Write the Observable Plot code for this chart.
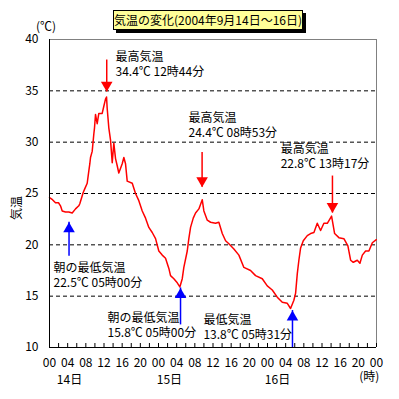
<!DOCTYPE html>
<html><head><meta charset="utf-8">
<script src="https://cdn.jsdelivr.net/npm/d3@7"></script>
<script src="https://cdn.jsdelivr.net/npm/@observablehq/plot@0.6"></script>
<style>
body{margin:0;background:#fff;font-family:"Noto Sans CJK JP",sans-serif;}
#wrap{position:relative;width:399px;height:399px;overflow:hidden;}
#wrap svg{position:absolute;left:0;top:0;}
#title{position:absolute;left:113px;top:10px;width:188px;height:18px;background:#FFFF99;border:1px solid #000;box-shadow:3px 3px 0 #000;font-size:12px;line-height:18px;text-align:center;white-space:nowrap;color:#000;}
#unit{position:absolute;left:36px;top:18px;font-size:12px;line-height:16px;color:#000;}
#ylab{position:absolute;left:16px;top:208px;font-size:12px;line-height:14px;transform:translate(-50%,-50%) rotate(-90deg);white-space:nowrap;color:#000;}
</style>
</head><body>
<div id="wrap">
  <div id="title"></div>
  <div id="unit"></div>
  <div id="ylab"></div>
</div>
<script>
// ---- data ----
const titleText = "気温の変化(2004年9月14日～16日)";
const unitText = "(℃)";
const yLabelText = "気温";
const yTicks = [10, 15, 20, 25, 30, 35, 40];
const gridTemps = [15, 20, 25, 30, 35];
const hourLabelTicks = [0,4,8,12,16,20,24,28,32,36,40,44,48,52,56,60,64,68,72];
const hourMinorTicks = [0,2,4,6,8,10,12,14,16,18,20,22,24,26,28,30,32,34,36,38,40,42,44,46,48,50,52,54,56,58,60,62,64,66,68,70,72];
const dayLabels = ["14日", "15日", "16日"];
const dayHours = [4.4, 26.4, 50.2];
const hourUnit = "(時)";
const hourUnitAt = 70.4;

// elapsed hours since 14日 00時, temperature (℃)
const hours = [0,0.66,1.32,1.98,2.42,2.8,3.52,4.25,5.0,5.73,
  6.45,6.67,7.42,7.71,8.3,8.66,8.88,9.03,9.4,9.76,
  9.91,10.13,10.5,10.86,11.6,11.96,12.33,12.56,12.7,13.06,
  13.44,13.81,14.16,14.54,14.91,15.26,16.01,16.37,16.74,17.11,
  18.22,18.94,19.67,20.42,21.15,21.87,22.62,23.35,24.07,24.82,
  25.55,26.28,26.65,27.38,28.13,28.7,29.23,29.58,30.33,30.68,
  31.06,31.65,32.16,32.89,33.63,33.99,34.74,35.46,36.56,37.29,
  38.04,38.77,39.49,40.6,41.7,42.8,44.27,45.37,46.85,47.95,
  49.05,50.15,51.26,52.36,53.08,53.81,54.19,54.56,54.91,55.29,
  55.88,56.76,57.49,58.22,58.96,59.69,60.42,61.17,62.11,62.78,
  63.72,64.82,65.7,66.3,66.89,67.77,68.35,68.88,69.6,70.33,
  71.08,71.96];
const temps = [24.6,24.4,24.1,24.1,23.8,23.3,23.2,23.2,23.1,23.5,
  23.8,24.0,25.1,25.4,26.0,27.2,27.9,28.5,29.1,30.8,
  31.4,32.7,31.8,32.8,32.8,33.5,34.2,34.4,33.3,31.4,
  30.2,28.0,29.9,28.4,27.7,27.0,27.9,28.5,27.9,26.2,
  26.0,25.0,24.3,23.3,22.6,21.7,21.2,20.6,19.4,19.0,
  18.7,17.7,17.0,16.7,16.3,15.9,16.7,17.8,19.4,20.6,
  21.7,22.6,23.1,23.5,24.4,23.3,22.4,22.2,22.1,22.2,
  21.1,20.4,20.1,19.6,19.0,17.8,17.5,17.0,16.7,16.0,
  15.6,14.9,14.4,14.3,13.8,14.6,15.3,17.2,18.5,19.7,
  20.4,20.9,21.1,21.2,22.1,21.4,22.1,22.1,22.8,21.1,
  20.7,20.6,19.9,18.5,18.3,18.5,18.2,19.0,19.4,19.4,
  20.2,20.5];

// annotations
const noteTitles = ["朝の最低気温", "最高気温", "朝の最低気温", "最高気温", "最低気温", "最高気温"];
const noteValues = ["22.5℃ 05時00分", "34.4℃ 12時44分", "15.8℃ 05時00分", "24.4℃ 08時53分", "13.8℃ 05時31分", "22.8℃ 13時17分"];
const arrowKinds = ["min", "max", "min", "max", "min", "max"];
const arrowHours = [4.3, 12.6, 28.85, 33.6, 53.5, 62.3];
const arrowTips = [22.2, 34.9, 15.8, 25.6, 13.6, 23.1];
const arrowTails = [18.9, 38.0, 12.2, 29.0, 10.0, 26.7];

// ---- layout (positions of annotation text, in chart units) ----
const noteX = [0.88, 14.54, 12.78, 30.6, 33.9, 50.9];
const noteY = [17.8, 38.4, 12.94, 32.45, 12.75, 29.35];

// ---- build ----
document.getElementById("title").textContent = titleText;
document.getElementById("unit").textContent = unitText;
document.getElementById("ylab").textContent = yLabelText;

const series = hours.map((h, i) => ({h, t: temps[i]}));
const idx = d3.range(noteTitles.length);
const triUp = {draw(c, s){ const y = Math.sqrt(s / (Math.sqrt(3) * 3)); c.moveTo(0, -2*y); c.lineTo(Math.sqrt(3)*y, y); c.lineTo(-Math.sqrt(3)*y, y); c.closePath(); }};
const triDown = {draw(c, s){ const y = Math.sqrt(s / (Math.sqrt(3) * 3)); c.moveTo(0, 2*y); c.lineTo(Math.sqrt(3)*y, -y); c.lineTo(-Math.sqrt(3)*y, -y); c.closePath(); }};
const colorOf = i => arrowKinds[i] === "max" ? "#FF0000" : "#0000FF";
const upIdx = idx.filter(i => arrowKinds[i] === "min");
const downIdx = idx.filter(i => arrowKinds[i] === "max");
const font = "'Noto Sans CJK JP', sans-serif";

const chart = Plot.plot({
  width: 399, height: 399,
  marginLeft: 49, marginRight: 23, marginTop: 39, marginBottom: 52,
  style: {fontFamily: font, fontSize: "12px", color: "#000", background: "transparent"},
  x: {domain: [0, 72]},
  y: {domain: [10, 40]},
  marks: [
    Plot.ruleY(gridTemps, {stroke: "#000", strokeDasharray: "4,3", strokeWidth: 1}),
    Plot.ruleY([40], {stroke: "#808080"}),
    Plot.ruleX([72], {stroke: "#808080"}),
    Plot.axisY({ticks: yTicks, tickSize: 0, tickPadding: 11, label: null, fontSize: 12}),
    Plot.axisX({ticks: hourMinorTicks, tickSize: -4, tickFormat: () => "", label: null}),
    Plot.axisX({ticks: hourLabelTicks, tickSize: 0, tickPadding: 11, label: null,
      tickFormat: d => String(d % 24 === 0 && d > 0 ? 0 : d % 24).padStart(2, "0"), fontSize: 12}),
    Plot.text(dayLabels, {x: (d, i) => dayHours[i], frameAnchor: "bottom", lineAnchor: "middle", dy: 33, text: d => d, fontSize: 12}),
    Plot.text([hourUnit], {x: hourUnitAt, frameAnchor: "bottom", lineAnchor: "middle", dy: 30, text: d => d, fontSize: 12, textAnchor: "middle"}),
    Plot.line(series, {x: "h", y: "t", stroke: "#FF0000", strokeWidth: 1.5}),
    Plot.ruleX(idx, {x: i => arrowHours[i], y1: i => arrowTails[i], y2: i => arrowTips[i], stroke: colorOf, strokeWidth: 1.5}),
    Plot.dot(upIdx, {x: i => arrowHours[i], y: i => arrowTips[i], symbol: triUp, r: 4.3, dy: 6.7, fill: colorOf, stroke: "none"}),
    Plot.dot(downIdx, {x: i => arrowHours[i], y: i => arrowTips[i], symbol: triDown, r: 4.3, dy: -6.7, fill: colorOf, stroke: "none"}),
    Plot.text(idx, {x: i => noteX[i], y: i => noteY[i], dy: -6, lineAnchor: "top", lineHeight: 1.25,
      text: i => noteTitles[i] + "\n" + noteValues[i], textAnchor: "start", fontSize: 12, fill: "#000"}),
    Plot.ruleX([0], {stroke: "#000"}),
    Plot.ruleY([10], {stroke: "#000"})
  ]
});
document.getElementById("wrap").prepend(chart);
</script>
</body></html>
